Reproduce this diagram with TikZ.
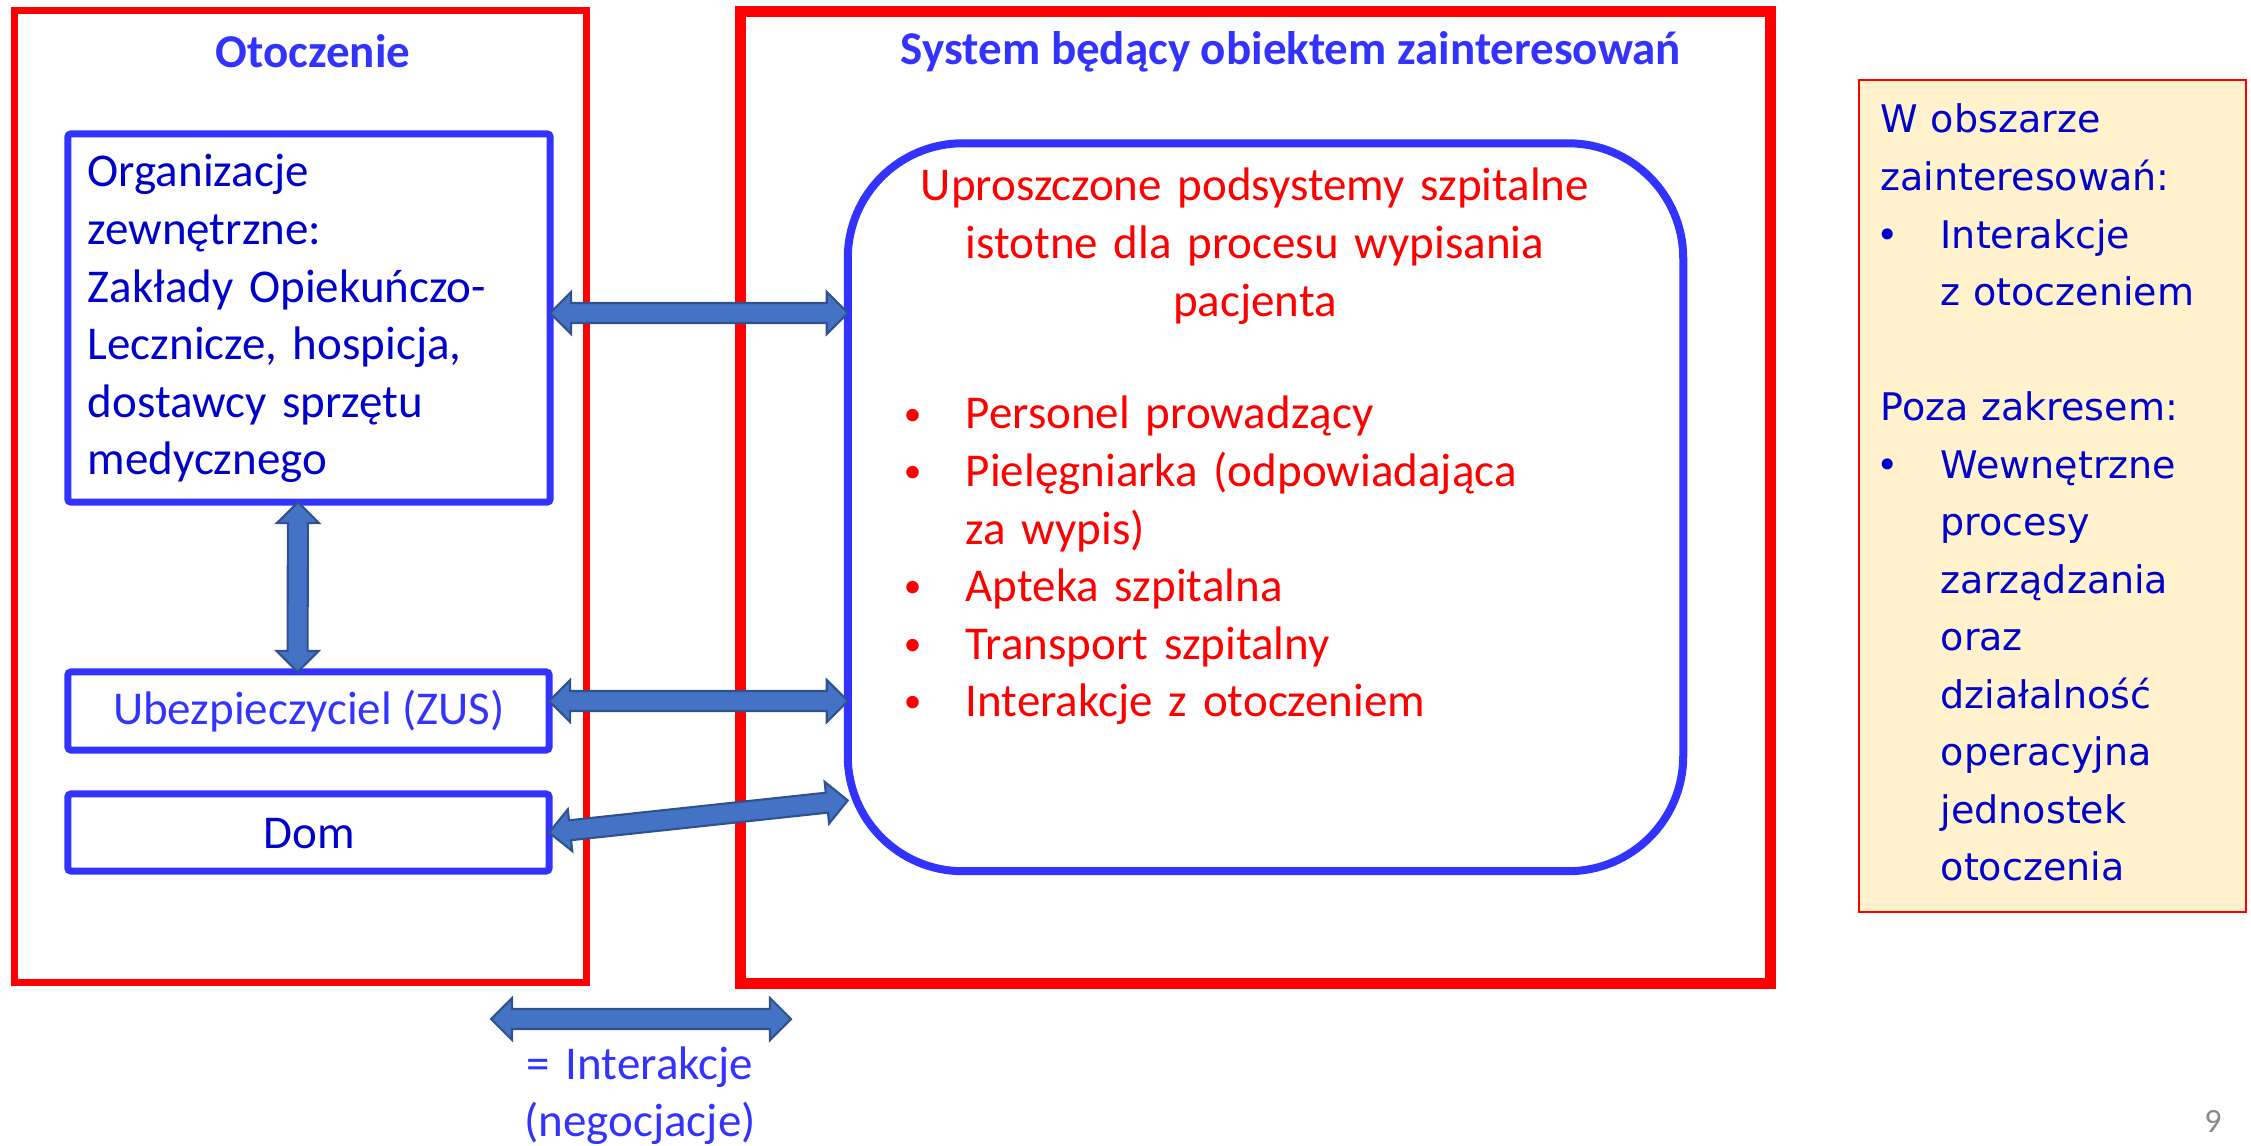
\documentclass[tikz,border=0pt]{standalone}
\usepackage{fontspec}
\usepackage{graphicx}
\setmainfont{Carlito}
\newfontfamily\notefont{DejaVu Sans}
\usetikzlibrary{calc}

\definecolor{frameRed}{HTML}{FF0000}
\definecolor{boxBlue}{HTML}{3333FF}
\definecolor{textBlue}{HTML}{0000CC}
\definecolor{arrowFill}{HTML}{4472C4}
\definecolor{arrowLine}{HTML}{2F528F}
\definecolor{noteFill}{HTML}{FFF2CC}
\definecolor{pageGray}{HTML}{898989}

\newcommand\mainsize{\fontsize{13.37pt}{16.36pt}\selectfont}
\newcommand\notesize{\fontsize{10.81pt}{16.36pt}\selectfont}
% bullet centred on the line start, text indented after it
\newcommand\bul{\makebox[0pt]{\raisebox{0.08em}{\scalebox{0.75}{•}}}\hspace{0.53cm}}
\newcommand\nbul{\hspace*{0.07cm}\makebox[0pt]{•}\hspace{0.53cm}}

% block double arrow between two points
\newcommand\duplex[2]{%
  \path (#1) coordinate (dx-a) (#2) coordinate (dx-b);
  \path ($(dx-a)!0.21cm!(dx-b)$) coordinate (dx-p)
        ($(dx-b)!0.21cm!(dx-a)$) coordinate (dx-q);
  \filldraw[blockarrow] (dx-a)
    -- ($(dx-p)!0.21cm!90:(dx-b)$) -- ($(dx-p)!0.10cm!90:(dx-b)$)
    -- ($(dx-q)!0.10cm!-90:(dx-a)$) -- ($(dx-q)!0.21cm!-90:(dx-a)$)
    -- (dx-b)
    -- ($(dx-q)!0.21cm!90:(dx-a)$) -- ($(dx-q)!0.10cm!90:(dx-a)$)
    -- ($(dx-p)!0.10cm!-90:(dx-b)$) -- ($(dx-p)!0.21cm!-90:(dx-b)$)
    -- cycle;
}

\begin{document}
\begin{tikzpicture}[x=0.01cm, y=-0.01cm,
  redframe/.style={draw=frameRed, rectangle, outer sep=0pt, inner sep=0pt},
  bluebox/.style={draw=boxBlue, line width=0.07cm, rectangle, rounded corners=0.03cm,
    outer sep=0pt, inner sep=0pt},
  blockarrow/.style={fill=arrowFill, draw=arrowLine, line width=0.6pt, line join=miter},
  heading/.style={anchor=base, inner sep=0pt, font=\mainsize\bfseries, text=boxBlue},
  plain/.style={inner sep=0pt, font=\mainsize},
  block/.style={inner sep=0pt, font=\mainsize, align=left}]

\useasboundingbox (0,0) rectangle (2251,1146);

% outer frames
\node[redframe, line width=0.07cm, minimum width=5.71cm, minimum height=9.71cm] (env) at (300.5,496.5) {};
\node[redframe, line width=0.11cm, minimum width=10.29cm, minimum height=9.715cm] (sysframe) at (1255.5,497.25) {};

\node[heading] (envtitle) at (313,68) {Otoczenie};
\node[heading] (systitle) at (1291,65) {System będący obiektem zainteresowań};

% environment boxes
\node[bluebox, minimum width=4.82cm, minimum height=3.68cm] (org) at (309,318) {};
\node[bluebox, minimum width=4.81cm, minimum height=0.78cm] (ubez) at (308.5,711) {};
\node[bluebox, minimum width=4.81cm, minimum height=0.77cm] (dom) at (308.5,832.5) {};

\node[block, anchor=base west, text width=4.55cm, text=textBlue] (orgtext) at (87,187)
  {Organizacje\\zewnętrzne:\\Zakłady Opiekuńczo-\\Lecznicze, hospicja,\\dostawcy sprzętu\\medycznego};
\node[plain, anchor=base, text=boxBlue] (ubeztext) at (309,724) {Ubezpieczyciel (ZUS)};
\node[plain, anchor=base, text=textBlue] (domtext) at (309,848) {Dom};

% hospital subsystems
\node[draw=boxBlue, line width=0.08cm, rectangle, rounded corners=1.15cm, outer sep=0pt, inner sep=0pt,
  minimum width=8.35cm, minimum height=7.275cm] (sys) at (1265.5,507.25) {};
\node[block, anchor=base, text width=8.2cm, align=center, text=frameRed] (syshead) at (1255,201)
  {Uproszczone podsystemy szpitalne\\istotne dla procesu wypisania\\pacjenta};
\node[block, anchor=base west, text width=6.6cm, text=frameRed] (syslist) at (912,429)
  {\bul Personel prowadzący\\\bul Pielęgniarka (odpowiadająca\\\hspace*{0.53cm}za wypis)\\\bul Apteka szpitalna\\\bul Transport szpitalny\\\bul Interakcje z otoczeniem};

% scope note
\node[draw=frameRed, fill=noteFill, line width=0.02cm, rectangle, outer sep=0pt, inner sep=0pt,
  minimum width=3.87cm, minimum height=8.32cm] (note) at (2052.5,496) {};
\node[anchor=base west, inner sep=0pt, text width=3.6cm, align=left, font=\notefont\notesize, text=textBlue] (notetext) at (1880,133)
  {W obszarze\\zainteresowań:\\\nbul Interakcje\\\hspace*{0.6cm}z otoczeniem\\[16.36pt]Poza zakresem:\\\nbul Wewnętrzne\\\hspace*{0.6cm}procesy\\\hspace*{0.6cm}zarządzania\\\hspace*{0.6cm}oraz\\\hspace*{0.6cm}działalność\\\hspace*{0.6cm}operacyjna\\\hspace*{0.6cm}jednostek\\\hspace*{0.6cm}otoczenia};

% interactions
\coordinate (orgR) at ([yshift=0.05cm]org.east);
\coordinate (sysL1) at (orgR -| sys.west);
\duplex{orgR}{sysL1}
\duplex{[xshift=-0.11cm]org.south}{[xshift=-0.11cm]ubez.north}
\coordinate (ubezR) at ([yshift=0.1cm]ubez.east);
\coordinate (sysL2) at (ubezR -| sys.west);
\duplex{ubezR}{sysL2}
\duplex{dom.east}{[yshift=-2.93cm]sys.west}

% legend
\coordinate (keyL) at (491,1019);
\coordinate (keyR) at (791,1019);
\duplex{keyL}{keyR}
\node[block, anchor=base, text width=4cm, align=center, text=boxBlue] (keytext) at (640,1079)
  {= Interakcje\\(negocjacje)};

\node[anchor=base, inner sep=0pt, font=\fontsize{9.67pt}{11pt}\selectfont, text=pageGray] (pagenum) at (2213,1132) {9};
\end{tikzpicture}
\end{document}
